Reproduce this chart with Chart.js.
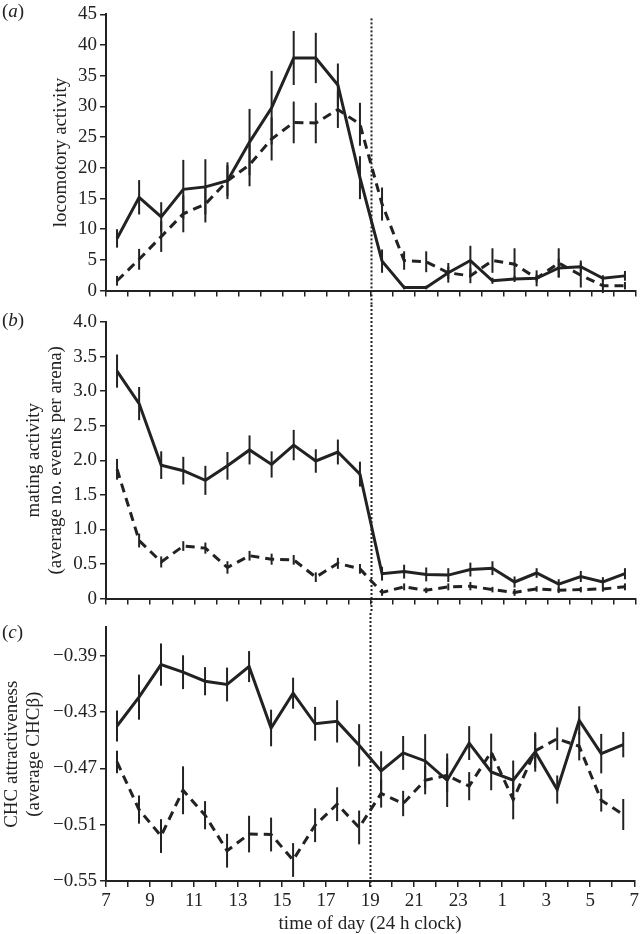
<!DOCTYPE html>
<html>
<head>
<meta charset="utf-8">
<script src="https://cdn.jsdelivr.net/npm/chart.js@4"></script>
<style>
  body { margin: 0; background: #fff; }
  #wrap { position: relative; width: 642px; height: 934px; font-family: "Liberation Serif", serif; color: #222; }
  .panel { position: absolute; left: 0; }
  .lbl { position: absolute; left: 2px; font-size: 19px; }
</style>
</head>
<body>
<div id="wrap">
  <div class="panel" style="top:0px"><canvas id="chartA" width="642" height="305"></canvas></div>
  <div class="panel" style="top:305px"><canvas id="chartB" width="642" height="308"></canvas></div>
  <div class="panel" style="top:613px"><canvas id="chartC" width="642" height="321"></canvas></div>
  <div class="lbl" style="top:0px">(<i>a</i>)</div>
  <div class="lbl" style="top:309px">(<i>b</i>)</div>
  <div class="lbl" style="top:621px">(<i>c</i>)</div>
</div>
<script>
// time of day, half-hour midpoints (hours past midnight, 24+ = next day)
let hours = [7.5, 8.5, 9.5, 10.5, 11.5, 12.5, 13.5, 14.5, 15.5, 16.5, 17.5, 18.5,
             19.5, 20.5, 21.5, 22.5, 23.5, 24.5, 25.5, 26.5, 27.5, 28.5, 29.5, 30.5];
let hourTicks = [7, 8, 9, 10, 11, 12, 13, 14, 15, 16, 17, 18, 19, 20, 21, 22, 23, 24, 25, 26, 27, 28, 29, 30, 31];
let hourLabels = ['7', '', '9', '', '11', '', '13', '', '15', '', '17', '', '19', '', '21', '', '23', '', '1', '', '3', '', '5', '', '7'];
let lightsOff = 19;

// (a) locomotory activity
let locoSolid = [8.5, 15.2, 12.0, 16.5, 16.9, 17.9, 24.2, 29.8, 37.9, 37.9, 33.5, 18.4,
                 4.8, 0.5, 0.5, 2.9, 4.9, 1.6, 1.9, 2.0, 3.7, 3.9, 2.0, 2.4];
let locoSolidErr = [1.5, 2.8, 2.4, 4.8, 4.5, 3.0, 5.4, 6.0, 4.4, 4.1, 3.5, 3.5,
                    1.9, 0.3, 0.3, 1.6, 2.4, 0.5, 0.5, 0.6, 1.5, 1.0, 0.5, 0.8];
let locoDashed = [1.6, 5.1, 8.8, 12.5, 14.1, 17.9, 20.5, 24.7, 27.4, 27.3, 29.5, 27.1,
                  14.1, 4.9, 4.7, 2.9, 2.4, 4.9, 4.3, 2.0, 4.5, 2.5, 0.8, 0.8];
let locoDashedErr = [0.8, 1.7, 2.5, 3.0, 3.0, 2.5, 3.5, 3.5, 3.4, 3.3, 3.0, 3.5,
                     2.7, 1.5, 1.7, 1.0, 1.2, 2.0, 2.6, 1.3, 2.4, 2.0, 1.2, 0.6];

// (b) mating activity
let mateSolid = [3.29, 2.82, 1.93, 1.85, 1.71, 1.92, 2.15, 1.94, 2.22, 1.99, 2.12, 1.80,
                 0.36, 0.39, 0.35, 0.34, 0.42, 0.44, 0.24, 0.37, 0.21, 0.32, 0.24, 0.36];
let mateSolidErr = [0.24, 0.24, 0.2, 0.2, 0.21, 0.2, 0.21, 0.19, 0.22, 0.17, 0.18, 0.18,
                    0.1, 0.1, 0.1, 0.1, 0.1, 0.1, 0.08, 0.07, 0.07, 0.08, 0.07, 0.08];
let mateDashed = [1.87, 0.84, 0.53, 0.76, 0.73, 0.45, 0.62, 0.57, 0.56, 0.31, 0.51, 0.43,
                  0.09, 0.17, 0.12, 0.17, 0.18, 0.13, 0.09, 0.14, 0.12, 0.13, 0.14, 0.17];
let mateDashedErr = [0.15, 0.1, 0.08, 0.07, 0.08, 0.09, 0.07, 0.08, 0.07, 0.07, 0.08, 0.07,
                     0.05, 0.05, 0.04, 0.05, 0.06, 0.04, 0.05, 0.04, 0.04, 0.04, 0.04, 0.05];

// (c) CHC attractiveness
let chcSolid = [-0.440, -0.4195, -0.3964, -0.4018, -0.4082, -0.4105, -0.3978, -0.4414, -0.4167, -0.4384, -0.4367, -0.4537,
                -0.4719, -0.4591, -0.4648, -0.4785, -0.4521, -0.4726, -0.4785, -0.4584, -0.4851, -0.436, -0.4596, -0.4532];
let chcSolidErr = [0.011, 0.016, 0.015, 0.012, 0.010, 0.012, 0.011, 0.013, 0.011, 0.012, 0.015, 0.015,
                   0.014, 0.012, 0.019, 0.019, 0.012, 0.013, 0.014, 0.014, 0.010, 0.010, 0.014, 0.009];
let chcDashed = [-0.4655, -0.4993, -0.5181, -0.4856, -0.5033, -0.5285, -0.5167, -0.517, -0.5351, -0.5104, -0.4955, -0.512,
                 -0.4879, -0.495, -0.4785, -0.475, -0.4827, -0.4584, -0.4922, -0.4577, -0.449, -0.4544, -0.4927, -0.5028];
let chcDashedErr = [0.008, 0.010, 0.012, 0.017, 0.010, 0.012, 0.013, 0.012, 0.012, 0.012, 0.012, 0.012,
                    0.010, 0.009, 0.010, 0.012, 0.010, 0.013, 0.014, 0.012, 0.008, 0.010, 0.008, 0.011];
let chcTicks = [-0.55, -0.51, -0.47, -0.43, -0.39];

const INK = '#222';
Chart.defaults.font.family = '"Liberation Serif", serif';
Chart.defaults.color = INK;

// vertical error bars drawn from each dataset's err array
const errorBars = {
  id: 'errorBars',
  afterDatasetsDraw(chart) {
    const ctx = chart.ctx;
    const xs = chart.scales.x, ys = chart.scales.y;
    ctx.save();
    ctx.strokeStyle = INK;
    ctx.lineWidth = 2;
    chart.data.datasets.forEach(ds => {
      ds.data.forEach((p, i) => {
        let e = ds.err[i];
        let px = xs.getPixelForValue(p.x);
        ctx.beginPath();
        ctx.moveTo(px, ys.getPixelForValue(p.y - e));
        ctx.lineTo(px, ys.getPixelForValue(p.y + e));
        ctx.stroke();
      });
    });
    ctx.restore();
  }
};

// dotted line at lights-off, running through all three panels
function dottedLine(fromTop, toBottom) {
  return {
    id: 'dotted',
    afterDraw(chart) {
      const ctx = chart.ctx;
      let px = Math.round(chart.scales.x.getPixelForValue(lightsOff)) + 0.5;
      let top = fromTop === null ? chart.chartArea.top + 4 : fromTop;
      let bottom = toBottom === null ? chart.chartArea.bottom + 6 : toBottom;
      ctx.save();
      ctx.strokeStyle = INK;
      ctx.lineWidth = 2;
      ctx.setLineDash([2, 2]);
      ctx.beginPath();
      ctx.moveTo(px, top);
      ctx.lineTo(px, bottom);
      ctx.stroke();
      ctx.restore();
    }
  };
}

function series(vals, errs, dashed) {
  return {
    data: vals.map((v, i) => ({ x: hours[i], y: v })),
    err: errs,
    borderColor: INK,
    borderWidth: 3,
    borderDash: dashed ? [9, 6] : [],
    pointRadius: 0,
    tension: 0,
    fill: false
  };
}

function xAxis(showLabels, height) {
  return {
    type: 'linear',
    min: 7,
    max: 31,
    afterBuildTicks: ax => { ax.ticks = hourTicks.map(v => ({ value: v })); },
    afterFit: ax => { ax.height = height; },
    ticks: {
      display: showLabels,
      autoSkip: false,
      maxRotation: 0,
      padding: 3,
      font: { size: 19 },
      callback: (v, i) => hourLabels[i]
    },
    grid: { drawOnChartArea: false, tickLength: 6, color: INK, lineWidth: 1.5 },
    border: { color: INK, width: 2 },
    title: {
      display: showLabels,
      text: 'time of day (24 h clock)',
      font: { size: 19, lineHeight: 1 },
      padding: { top: 0, bottom: 0 }
    }
  };
}

function yAxis(extra, title, titlePad) {
  let ax = {
    afterFit: a => { a.width = 106; },
    ticks: { padding: 3, font: { size: 19 } },
    grid: { drawOnChartArea: false, tickLength: 6, color: INK, lineWidth: 1.5 },
    border: { color: INK, width: 2 },
    title: { display: true, text: title, font: { size: 19, lineHeight: 1.15 }, padding: { top: titlePad, bottom: 0 } }
  };
  return Object.assign(ax, extra, { ticks: Object.assign(ax.ticks, extra.ticks || {}) });
}

function makeChart(id, datasets, x, y, padTop, dotted) {
  return new Chart(document.getElementById(id), {
    type: 'line',
    data: { datasets: datasets },
    options: {
      responsive: false,
      animation: false,
      layout: { padding: { top: padTop, right: 6, bottom: 0, left: 0 } },
      plugins: { legend: { display: false }, tooltip: { enabled: false } },
      scales: { x: x, y: y }
    },
    plugins: [errorBars, dotted]
  });
}

makeChart('chartA',
  [series(locoSolid, locoSolidErr, false), series(locoDashed, locoDashedErr, true)],
  xAxis(false, 10),
  yAxis({ min: 0, max: 45, ticks: { stepSize: 5 } }, 'locomotory activity', 50),
  13, dottedLine(null, 305));

makeChart('chartB',
  [series(mateSolid, mateSolidErr, false), series(mateDashed, mateDashedErr, true)],
  xAxis(false, 10),
  yAxis({ min: 0, max: 4, ticks: { stepSize: 0.5, callback: v => v === 0 ? '0' : v.toFixed(1) } },
    ['mating activity', '(average no. events per arena)'], 23),
  17, dottedLine(0, 308));

makeChart('chartC',
  [series(chcSolid, chcSolidErr, false), series(chcDashed, chcDashedErr, true)],
  xAxis(true, 53),
  yAxis({ min: -0.55, max: -0.37,
          afterBuildTicks: a => { a.ticks = chcTicks.map(v => ({ value: v })); },
          ticks: { callback: v => '\u2212' + Math.abs(v).toFixed(2) } },
    ['CHC attractiveness', '(average CHC\u03b2)'], 1),
  14, dottedLine(0, null));
</script>
</body>
</html>
